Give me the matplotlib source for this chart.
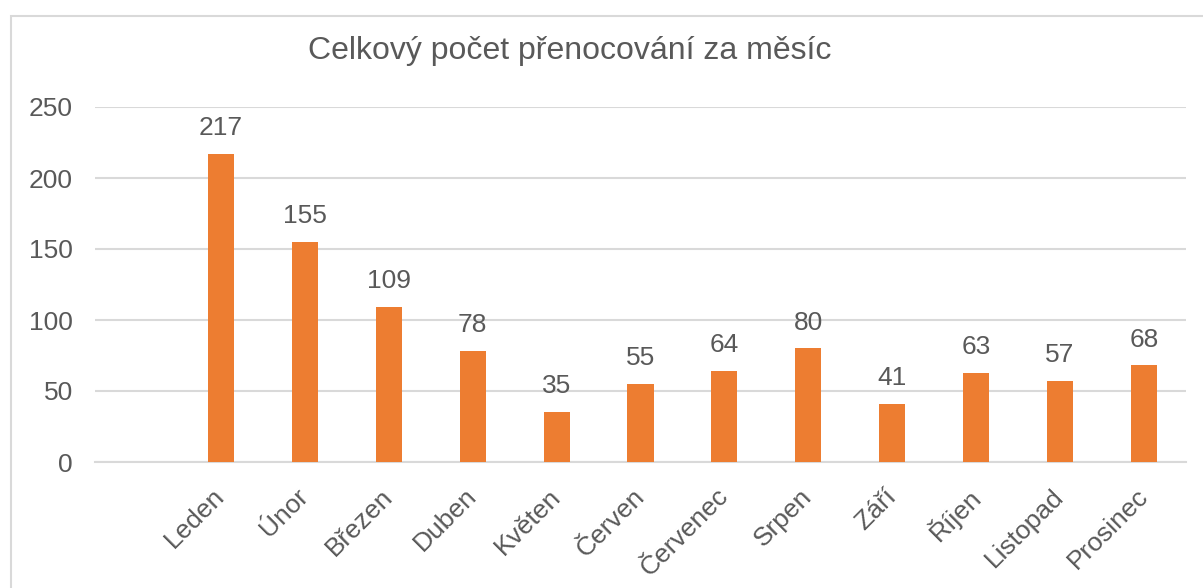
import matplotlib.pyplot as plt
from matplotlib.patches import Rectangle

# Monthly overnight stays
months = ['Leden', 'Únor', 'Březen', 'Duben', 'Květen', 'Červen',
          'Červenec', 'Srpen', 'Září', 'Říjen', 'Listopad', 'Prosinec']
stays = [217, 155, 109, 78, 35, 55, 64, 80, 41, 63, 57, 68]
yticks = [0, 50, 100, 150, 200, 250]

plt.rcParams['font.family'] = ['Liberation Sans', 'DejaVu Sans']
text_color = '#595959'
grid_color = '#D9D9D9'
bar_color = '#ED7D31'

W, H = 1203, 588
fig = plt.figure(figsize=(W / 100, H / 100), dpi=100)

# chart area border
fig.patches.append(Rectangle((11 / W, -0.1), 1.2, 1 - 16 / H + 0.1,
                             transform=fig.transFigure, fill=False,
                             edgecolor=grid_color, linewidth=1.5))

ax = fig.add_axes([95 / W, 1 - 462 / H, (1186 - 95) / W, (462 - 107) / H])

x = list(range(len(months)))
bars = ax.bar(x, stays, width=0.31, color=bar_color, zorder=3)

# data labels
for bar, v in zip(bars, stays):
    ax.annotate(str(v), (bar.get_x() + bar.get_width() / 2, v),
                xytext=(0, 10), textcoords='offset points',
                ha='center', va='bottom', fontsize=19, color=text_color)

ax.set_xlim(-1.5, len(months) - 0.5)
ax.set_ylim(0, 250)
ax.set_yticks(yticks)
ax.set_yticklabels([str(t) for t in yticks], fontsize=19, color=text_color)
ax.set_xticks(x)
ax.set_xticklabels(months, rotation=45, ha='right', va='center',
                   rotation_mode='anchor', fontsize=19, color=text_color)
ax.tick_params(axis='both', length=0)
ax.tick_params(axis='y', pad=16)
ax.tick_params(axis='x', pad=22)

ax.grid(axis='y', color=grid_color, linewidth=1.5, zorder=0)
for s in ['top', 'right', 'left']:
    ax.spines[s].set_visible(False)
ax.spines['bottom'].set_color(grid_color)
ax.spines['bottom'].set_linewidth(1.5)

fig.text(570 / W, 1 - 51 / H, 'Celkový počet přenocování za měsíc',
         ha='center', va='center', fontsize=23, color=text_color)

fig.savefig('out.png', dpi=100)
